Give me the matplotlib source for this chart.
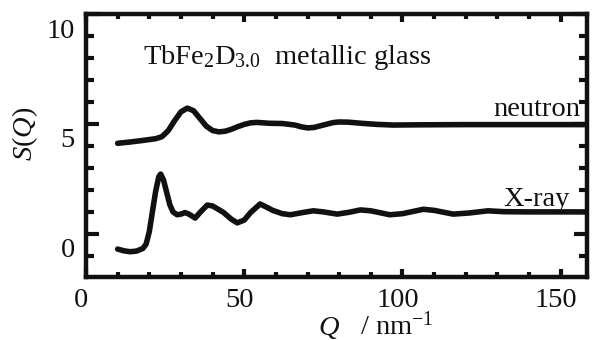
import matplotlib
matplotlib.use("Agg")
import matplotlib.pyplot as plt
from matplotlib.ticker import MultipleLocator
from matplotlib.transforms import ScaledTranslation

plt.rcParams['font.family'] = ['Liberation Serif', 'DejaVu Serif']
plt.rcParams['mathtext.fontset'] = 'custom'
plt.rcParams['mathtext.rm'] = 'Liberation Serif'
plt.rcParams['mathtext.it'] = 'Liberation Serif:italic'

q_neutron = [10, 14, 18, 22, 24, 26, 28, 30, 32, 34, 36, 38, 40, 42, 44, 46, 48, 50,
             52, 54, 56, 58, 62, 66, 68, 70, 72, 75, 78, 80, 83, 87, 92, 97, 105, 120, 140, 160]
s_neutron = [4.12, 4.18, 4.25, 4.33, 4.42, 4.7, 5.15, 5.55, 5.72, 5.6, 5.25, 4.9, 4.7, 4.64,
             4.67, 4.76, 4.88, 4.98, 5.05, 5.07, 5.05, 5.03, 5.02, 4.95, 4.87, 4.82, 4.84,
             4.95, 5.06, 5.09, 5.08, 5.03, 4.98, 4.95, 4.96, 4.97, 4.97, 4.97]

q_xray = [10, 12, 14, 16, 18, 19, 20, 21, 22, 23, 23.6, 24.5, 25.5, 26.5, 27.5, 28.8, 30,
          31.3, 32.5, 34.5, 36, 38.3, 40, 43.4, 46, 47.8, 50, 52, 55, 57, 59, 62, 64.6, 68,
          71.8, 75, 79.4, 83, 86.7, 90, 96, 100, 106.6, 110, 116, 121, 127, 132, 140, 160]
s_xray = [-0.69, -0.77, -0.81, -0.78, -0.66, -0.46, 0.1, 1.02, 1.93, 2.6, 2.72, 2.45, 1.88,
          1.32, 1.0, 0.87, 0.9, 0.97, 0.9, 0.72, 0.97, 1.31, 1.27, 0.98, 0.66, 0.5, 0.63,
          0.97, 1.36, 1.22, 1.07, 0.92, 0.87, 0.96, 1.05, 1.0, 0.9, 0.98, 1.09, 1.05, 0.87,
          0.92, 1.12, 1.07, 0.9, 0.95, 1.05, 1.01, 1.0, 1.0]

ink = '#111111'
fs = 20.5

fig = plt.figure(figsize=(5.94, 3.40), dpi=100)
ax = fig.add_axes([86/594, 63/340, (587-86)/594, (277-14)/340])

ax.plot(q_neutron, s_neutron, color=ink, lw=4.0, solid_joinstyle='round', solid_capstyle='round')
ax.plot(q_xray, s_xray, color=ink, lw=4.0, solid_joinstyle='round', solid_capstyle='round')

ax.set_xlim(0, 158.3)
ax.set_ylim(-1.96, 10)
ax.xaxis.set_major_locator(MultipleLocator(50))
ax.xaxis.set_minor_locator(MultipleLocator(10))
ax.yaxis.set_major_locator(MultipleLocator(5))
ax.yaxis.set_minor_locator(MultipleLocator(1))

for s in ax.spines.values():
    s.set_linewidth(3.2)
    s.set_color(ink)

ax.tick_params(axis='both', which='both', direction='in', colors=ink,
               labelsize=fs, width=3.0)
ax.tick_params(axis='x', which='major', length=6, top=True, pad=8)
ax.tick_params(axis='x', which='minor', length=3.8, top=True)
ax.tick_params(axis='y', which='major', length=9.5, right=True, pad=8)
ax.tick_params(axis='y', which='minor', length=5.5, right=True)

for lab in ax.get_yticklabels():
    lab.set_transform(lab.get_transform() + ScaledTranslation(0, -0.14, fig.dpi_scale_trans))
for lab in ax.get_xticklabels():
    lab.set_transform(lab.get_transform() + ScaledTranslation(-0.05, 0, fig.dpi_scale_trans))

ax.text(18, 7.72, r"TbFe$_2$D$_{3.0}$  metallic glass", fontsize=fs, color=ink, va='baseline')
ax.text(156.3, 5.36, "neutron", fontsize=fs, color=ink, ha='right', va='baseline')
ax.text(153, 1.27, "X-ray", fontsize=fs, color=ink, ha='right', va='baseline')

fig.text(25/594, 1 - 134/340, r"$S(Q)$", fontsize=fs, rotation=90, ha='center', va='center', color=ink)
fig.text(318/594, 5/340, r"$Q$", fontsize=fs, ha='left', va='baseline', color=ink)
fig.text(360/594, 5/340, r"/ nm$^{-1}$", fontsize=fs, ha='left', va='baseline', color=ink)

fig.savefig("out.png", dpi=100)
